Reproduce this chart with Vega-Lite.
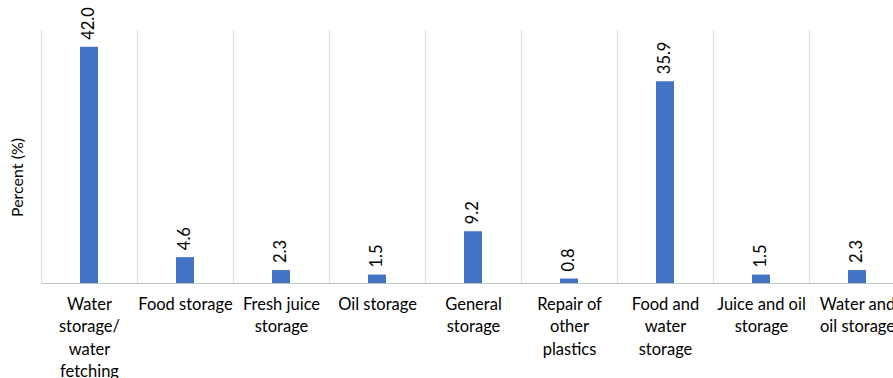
{
  "$schema": "https://vega.github.io/schema/vega-lite/v6.json",
  "width": 864,
  "height": 253,
  "autosize": {"type": "none"},
  "padding": {"left": 41, "top": 30, "right": 0, "bottom": 95},
  "background": "white",
  "config": {"view": {"stroke": null}, "font": "Lato"},
  "data": {
    "values": [
      {"use": "Water storage/ water fetching", "pct": 42.0},
      {"use": "Food storage", "pct": 4.6},
      {"use": "Fresh juice storage", "pct": 2.3},
      {"use": "Oil storage", "pct": 1.5},
      {"use": "General storage", "pct": 9.2},
      {"use": "Repair of other plastics", "pct": 0.8},
      {"use": "Food and water storage", "pct": 35.9},
      {"use": "Juice and oil storage", "pct": 1.5},
      {"use": "Water and oil storage", "pct": 2.3}
    ]
  },
  "encoding": {
    "x": {
      "field": "use",
      "type": "nominal",
      "sort": null,
      "scale": {"paddingInner": 0, "paddingOuter": 0},
      "axis": {
        "title": null,
        "labelAngle": 0,
        "labelFontSize": 16.5,
        "labelColor": "#000000",
        "labelBaseline": "top",
        "labelLineHeight": 22.5,
        "labelPadding": 13,
        "labelLimit": 0,
        "labelExpr": "datum.value == 'Water storage/ water fetching' ? ['Water', 'storage/', 'water', 'fetching'] : datum.value == 'Fresh juice storage' ? ['Fresh juice', 'storage'] : datum.value == 'General storage' ? ['General', 'storage'] : datum.value == 'Repair of other plastics' ? ['Repair of', 'other', 'plastics'] : datum.value == 'Food and water storage' ? ['Food and', 'water', 'storage'] : datum.value == 'Juice and oil storage' ? ['Juice and oil', 'storage'] : datum.value == 'Water and oil storage' ? ['Water and', 'oil storage'] : datum.label",
        "ticks": false,
        "tickBand": "extent",
        "grid": true,
        "gridColor": "#d9d9d9",
        "gridWidth": 1,
        "domainColor": "#bfbfbf",
        "domainWidth": 1
      }
    },
    "y": {
      "field": "pct",
      "type": "quantitative",
      "scale": {"domain": [0, 45]},
      "axis": {
        "title": "Percent (%)",
        "titleFontSize": 16,
        "titleFontWeight": "normal",
        "titleColor": "#000000",
        "titleX": -24,
        "titleY": 147,
        "titleAngle": 270,
        "titleAlign": "center",
        "titleBaseline": "middle",
        "labels": false,
        "ticks": false,
        "domain": false,
        "grid": false
      }
    }
  },
  "layer": [
    {"mark": {"type": "bar", "color": "#4472C4", "size": 18}},
    {
      "mark": {
        "type": "text",
        "angle": 270,
        "align": "left",
        "baseline": "middle",
        "dx": 7,
        "fontSize": 16.5,
        "color": "#000000"
      },
      "encoding": {"text": {"field": "pct", "format": ".1f"}}
    }
  ]
}
